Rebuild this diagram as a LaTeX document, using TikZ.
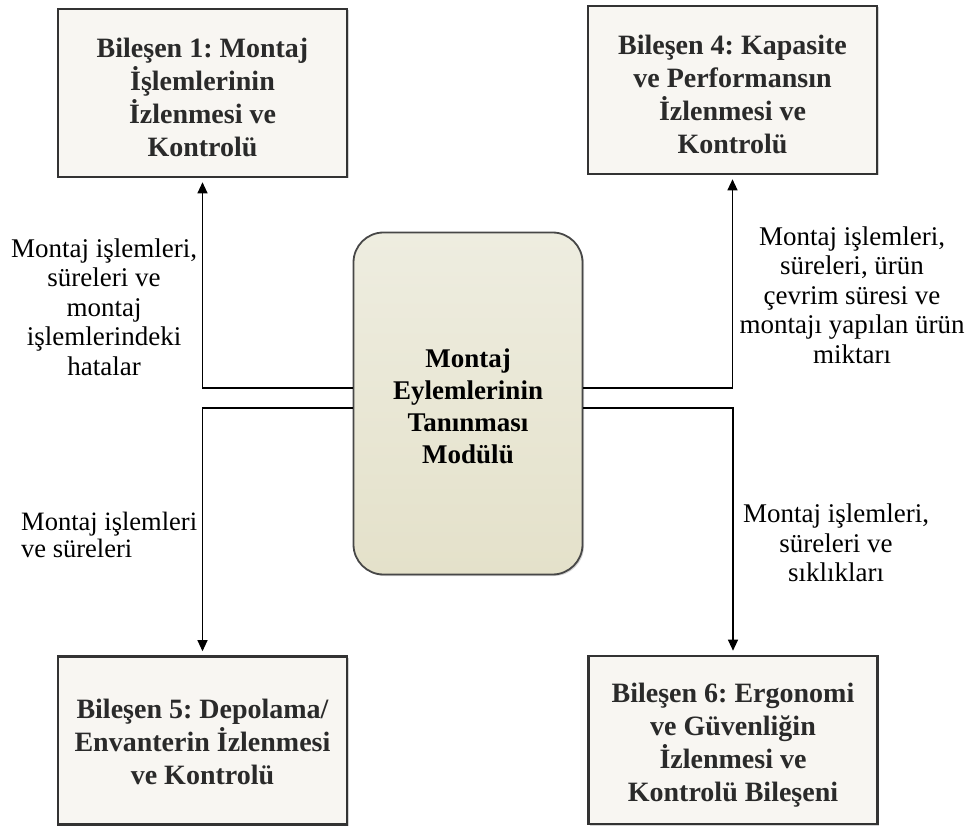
\documentclass[tikz,border=0pt]{standalone}
\usepackage{fontspec}
\setmainfont{Liberation Serif}
\frenchspacing
\usetikzlibrary{shadows,arrows.meta}
\definecolor{boxfill}{HTML}{F8F6F2}
\definecolor{boxline}{HTML}{333333}
\definecolor{modtop}{HTML}{EEEDE0}
\definecolor{modbot}{HTML}{E4E1CA}
\definecolor{txtdark}{HTML}{2A2A2A}
\newcommand{\toppad}[1]{\rule{0pt}{#1}}
\begin{document}
\begin{tikzpicture}[x=1pt,y=-1pt,
  compbox/.style={draw=boxline, line width=2.6pt, fill=boxfill,
    minimum width=289pt, minimum height=168pt, inner sep=0pt, align=center,
    text=txtdark, font=\fontsize{28}{33}\selectfont\bfseries,
    drop shadow={opacity=0.35, shadow xshift=1.5pt, shadow yshift=-1.5pt}},
  modbox/.style={draw=boxline!90, line width=1.8pt, top color=modtop, bottom color=modbot,
    rounded corners=30pt, minimum width=229pt, minimum height=342pt, inner sep=0pt,
    align=center, font=\fontsize{27}{32}\selectfont\bfseries,
    drop shadow={opacity=0.35, shadow xshift=1.5pt, shadow yshift=-1.5pt}},
  lbl/.style={align=center, font=\fontsize{27}{29.5}\selectfont, inner sep=0pt},
  lblleft/.style={align=left, font=\fontsize{26.5}{27}\selectfont, inner sep=0pt, anchor=west},
  arr/.style={line width=1.1pt, -{Triangle[length=11pt,width=10pt]}, shorten >=4pt}
]
\useasboundingbox (0,0) rectangle (967,826);

\node[compbox] (b1) at (202.5,93) {\toppad{29pt}Bileşen 1: Montaj\\İşlemlerinin\\İzlenmesi ve\\Kontrolü};
\node[compbox] (b4) at (732.5,90) {\toppad{29pt}Bileşen 4: Kapasite\\ve Performansın\\İzlenmesi ve\\Kontrolü};
\node[compbox] (b5) at (202.5,740.5) {\toppad{23pt}Bileşen 5: Depolama/\\Envanterin İzlenmesi\\ve Kontrolü};
\node[compbox] (b6) at (733,740) {\toppad{29pt}Bileşen 6: Ergonomi\\ve Güvenliğin\\İzlenmesi ve\\Kontrolü Bileşeni};

\node[modbox] (m) at (468,403.5) {\toppad{25pt}Montaj\\Eylemlerinin\\Tanınması\\Modülü};

\coordinate (yup) at (0,388);
\coordinate (ydown) at (0,408);

\draw[arr] (m.west |- yup) -| (b1.south);
\draw[arr] (m.west |- ydown) -| (b5.north);
\draw[arr] (m.east |- yup) -| (b4.south);
\draw[arr] (m.east |- ydown) -| (b6.north);

\node[lbl] (l1) at (104,307) {Montaj işlemleri,\\süreleri ve\\montaj\\işlemlerindeki\\hatalar};
\node[lbl] (l4) at (852,295) {Montaj işlemleri,\\süreleri, ürün\\çevrim süresi ve\\montajı yapılan ürün\\miktarı};
\node[lblleft] (l5) at (21,535) {Montaj işlemleri\\ve süreleri};
\node[lbl] (l6) at (836,543) {Montaj işlemleri,\\süreleri ve\\sıklıkları};
\end{tikzpicture}
\end{document}
